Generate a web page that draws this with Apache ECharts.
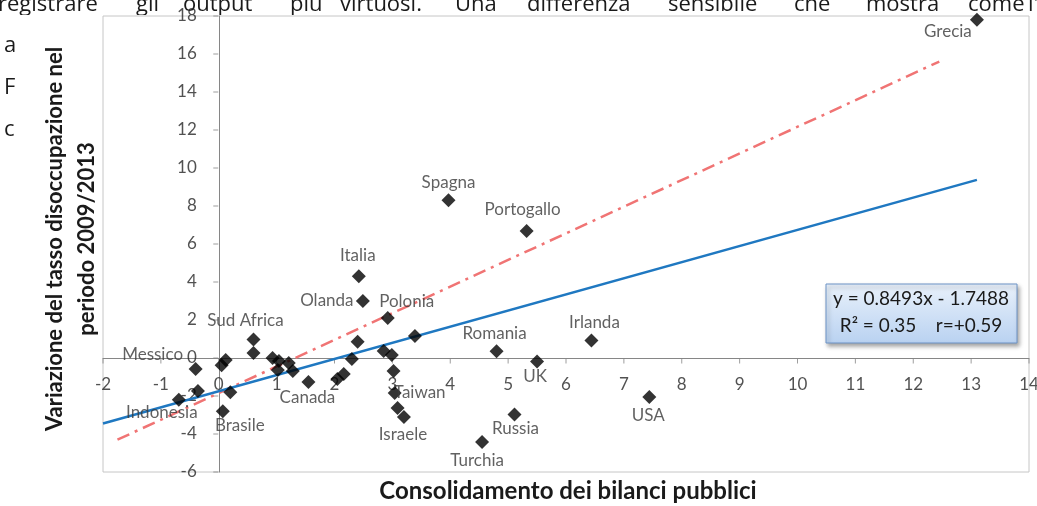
<!DOCTYPE html>
<html>
<head>
<meta charset="utf-8">
<script src="https://cdn.jsdelivr.net/npm/echarts@6/dist/echarts.min.js"></script>
<style>
  html, body { margin: 0; padding: 0; background: #fff; }
  #chart { width: 1037px; height: 506px; }
</style>
</head>
<body>
<div id="chart"></div>
<script>
// Countries with a label: fiscal consolidation (x) vs change in unemployment 2009/2013 (y)
const countries = ['Grecia', 'Spagna', 'Portogallo', 'Italia', 'Olanda', 'Polonia', 'Sud Africa',
  'Messico', 'Indonesia', 'Brasile', 'Canada', 'Taiwan', 'Israele', 'Romania', 'UK', 'Irlanda',
  'USA', 'Russia', 'Turchia'];
const consolidation = [13.1, 3.97, 5.32, 2.42, 2.49, 2.92, 0.6,
  -0.4, -0.69, 0.07, 1.55, 3.04, 3.2, 4.8, 5.5, 6.44,
  7.44, 5.11, 4.55];
const unemploymentChange = [17.8, 8.3, 6.68, 4.3, 3.0, 2.1, 0.97,
  -0.58, -2.2, -2.8, -1.26, -1.84, -3.1, 0.35, -0.18, 0.92,
  -2.05, -2.98, -4.42];

// Remaining countries, drawn without a label
const otherConsolidation = [0.6, 0.93, 1.04, 1.02, 1.21, 1.28, 0.12, 0.05, -0.36, 0.2,
  2.4, 3.39, 2.85, 2.99, 2.3, 2.16, 2.05, 3.02, 3.09];
const otherUnemployment = [0.26, 0.0, -0.16, -0.63, -0.26, -0.68, -0.1, -0.38, -1.74, -1.8,
  0.85, 1.16, 0.37, 0.16, -0.05, -0.84, -1.1, -0.68, -2.63];

// Linear fit shown in the equation box
const fitSlope = 0.8493;
const fitIntercept = -1.7488;
const fitR2 = 0.35;
const fitR = 0.59;
const fitXRange = [-2, 13.1];

// Second (dash-dot) trend line, end points
const altTrendX = [-1.75, 12.45];
const altTrendY = [-4.3, 15.6];

// Tick labels of the two axes (they cross at 0, 0)
const xTickLabels = [-2, -1, 0, 1, 2, 3, 4, 5, 6, 7, 8, 9, 10, 11, 12, 13, 14];
const yTickLabels = [-6, -4, -2, 0, 2, 4, 6, 8, 10, 12, 14, 16, 18];

// Label offsets (px) from each marker centre
const labelOffset = {
  'Grecia': [-29, 12], 'Spagna': [0, -18], 'Portogallo': [-4, -22], 'Italia': [-1, -21],
  'Olanda': [-36, 0], 'Polonia': [19, -17], 'Sud Africa': [-8, -19], 'Messico': [-43, -15],
  'Indonesia': [-17, 13], 'Brasile': [17, 14], 'Canada': [-1, 16], 'Taiwan': [25, 0],
  'Israele': [-1, 18], 'Romania': [-2, -18], 'UK': [-2, 15], 'Irlanda': [3, -18],
  'USA': [-1, 19], 'Russia': [1, 14], 'Turchia': [-5, 19]
};

// Surrounding article text
const articleWords = [
  ['registrare', -2], ['gli', 136], ['output', 183], ['più', 290], ['virtuosi.', 340],
  ['Una', 455], ['differenza', 527], ['sensibile', 668], ['che', 794], ['mostra', 866],
  ['come', 968], ["l'E", 1028]
];
const articleLineStarts = [['a', 53], ['F', 95], ['c', 137]];

const FONT = 'Lato, "Open Sans", sans-serif';
const PAGE_FONT = '"Open Sans", "Noto Sans", sans-serif';

const labeled = countries.map((name, i) => ({
  name,
  value: [consolidation[i], unemploymentChange[i]],
  label: { offset: labelOffset[name] || [0, -18] }
}));
const unlabeled = otherConsolidation.map((x, i) => [x, otherUnemployment[i]]);

const fitLine = fitXRange.map(x => [x, fitSlope * x + fitIntercept]);
const altLine = altTrendX.map((x, i) => [x, altTrendY[i]]);

const xTickMarks = xTickLabels.map(v => [v, 0]);
const yTickMarks = yTickLabels.map(v => [0, v]);

const graphics = [];
articleWords.forEach(([w, x]) => {
  graphics.push({ type: 'text', z: -20, x, y: 5,
    style: { text: w, font: '22px ' + PAGE_FONT, fill: '#1a1a1a', verticalAlign: 'middle' } });
});
articleLineStarts.forEach(([w, y]) => {
  graphics.push({ type: 'text', z: -20, x: 4, y: y - 7,
    style: { text: w, font: '22px ' + PAGE_FONT, fill: '#1a1a1a', verticalAlign: 'middle' } });
});
// white chart background over the article text
graphics.push({ type: 'rect', z: -10, shape: { x: 19, y: 15, width: 1100, height: 600 },
  style: { fill: '#ffffff' } });
// axis titles
graphics.push({ type: 'text', z: 5, x: 55, y: 239, rotation: Math.PI / 2,
  style: { text: 'Variazione del tasso disoccupazione nel', font: 'bold 22px ' + FONT,
    fill: '#1a1a1a', align: 'center', verticalAlign: 'middle' } });
graphics.push({ type: 'text', z: 5, x: 87, y: 239, rotation: Math.PI / 2,
  style: { text: 'periodo 2009/2013', font: 'bold 22px ' + FONT,
    fill: '#1a1a1a', align: 'center', verticalAlign: 'middle' } });
graphics.push({ type: 'text', z: 5, x: 568, y: 491,
  style: { text: 'Consolidamento dei bilanci pubblici', font: 'bold 24px ' + FONT,
    fill: '#1a1a1a', align: 'center', verticalAlign: 'middle' } });
// equation box
graphics.push({ type: 'rect', z: 50, shape: { x: 826, y: 284, width: 191, height: 59 },
  style: {
    fill: new echarts.graphic.LinearGradient(0, 0, 0, 1, [
      { offset: 0, color: '#e9f1fb' }, { offset: 1, color: '#b9d2f1' }]),
    stroke: '#6d93c6', lineWidth: 1,
    shadowBlur: 4, shadowOffsetX: 2, shadowOffsetY: 3, shadowColor: 'rgba(0,0,0,0.35)'
  } });
graphics.push({ type: 'text', z: 51, x: 921, y: 299,
  style: { text: 'y = ' + fitSlope.toFixed(4) + 'x - ' + Math.abs(fitIntercept).toFixed(4),
    font: '19px ' + FONT, fill: '#1a1a1a', align: 'center', verticalAlign: 'middle' } });
graphics.push({ type: 'text', z: 51, x: 921, y: 326,
  style: { text: 'R\u00B2 = ' + fitR2.toFixed(2) + '    r=+' + fitR.toFixed(2),
    font: '19px ' + FONT, fill: '#1a1a1a', align: 'center', verticalAlign: 'middle' } });

const chart = echarts.init(document.getElementById('chart'));
chart.setOption({
  animation: false,
  backgroundColor: 'transparent',
  grid: { left: 103, right: 8, top: 16, bottom: 34, show: true,
    borderColor: '#c6c6c6', borderWidth: 1, backgroundColor: 'transparent' },
  xAxis: {
    type: 'value', min: -2, max: 14, interval: 1,
    axisLine: { onZero: true, lineStyle: { color: '#868686', width: 1 } },
    axisTick: { show: false },
    axisLabel: { show: false },
    splitLine: { show: false }
  },
  yAxis: {
    type: 'value', min: -6, max: 18, interval: 2,
    axisLine: { onZero: true, lineStyle: { color: '#868686', width: 1 } },
    axisTick: { show: false },
    axisLabel: { show: false },
    splitLine: { show: false }
  },
  graphic: { elements: graphics },
  series: [
    {
      // x-axis ticks and tick labels along y = 0
      type: 'scatter', data: xTickMarks, symbol: 'rect', symbolSize: [1, 5],
      symbolOffset: [0, 3], z: 1, silent: true,
      itemStyle: { color: '#868686' },
      label: { show: true, position: 'inside', offset: [0, 24],
        formatter: p => String(p.value[0]), color: '#262626', fontSize: 17, fontFamily: FONT }
    },
    {
      // y-axis ticks and tick labels along x = 0
      type: 'scatter', data: yTickMarks, symbol: 'rect', symbolSize: [5, 1],
      symbolOffset: [-3, 0], z: 1, silent: true,
      itemStyle: { color: '#868686' },
      label: { show: true, position: 'inside', align: 'right', offset: [-19, 0],
        formatter: p => String(p.value[1]), color: '#262626', fontSize: 17, fontFamily: FONT }
    },
    {
      type: 'line', data: altLine, symbol: 'none', z: 3,
      lineStyle: { color: '#f07474', width: 2.5, type: [13, 6, 3, 6] }
    },
    {
      type: 'line', data: fitLine, symbol: 'none', z: 3,
      lineStyle: { color: '#1f78c1', width: 2.5 }
    },
    {
      type: 'scatter', data: unlabeled, symbol: 'diamond', symbolSize: 14, z: 4,
      itemStyle: { color: '#000' }
    },
    {
      type: 'scatter', data: labeled, symbol: 'diamond', symbolSize: 14, z: 4,
      itemStyle: { color: '#000' },
      label: { show: true, position: 'inside', formatter: '{b}', color: '#3a3a3a',
        fontSize: 17, fontFamily: FONT }
    }
  ]
});
</script>
</body>
</html>
